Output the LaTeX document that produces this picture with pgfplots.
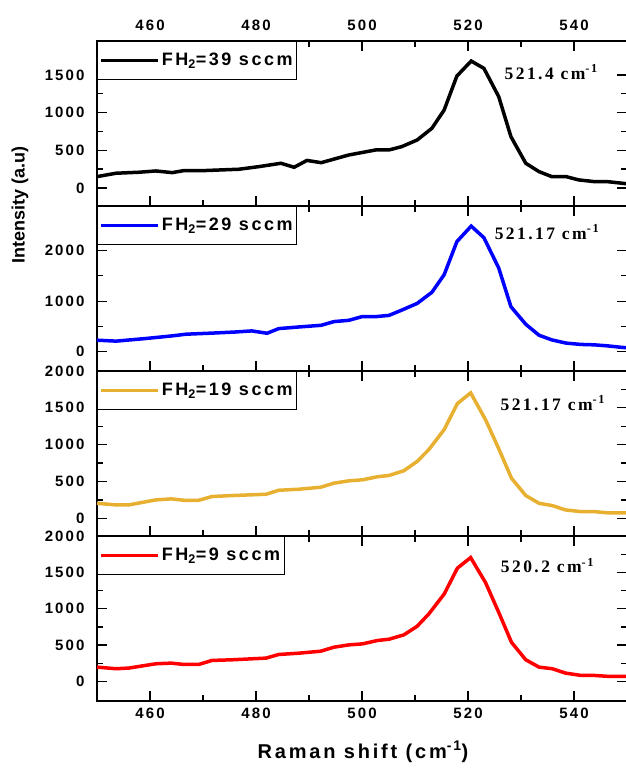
\documentclass[border=0pt]{standalone}
\usepackage{fontspec}
\setmainfont{Liberation Sans}
\newfontfamily\tickfont[LetterSpace=14]{Liberation Sans}
\newfontfamily\labfont[LetterSpace=14]{Liberation Sans}
\newfontfamily\ylabfont{Liberation Sans}
\newfontfamily\annfont[LetterSpace=14]{Liberation Serif}
\usepackage{pgfplots}
\pgfplotsset{compat=1.18}
\usepgfplotslibrary{groupplots}
\usetikzlibrary{calc}
\definecolor{cGold}{HTML}{E8B030}
\definecolor{cBlue}{HTML}{0000FF}
\definecolor{cRed}{HTML}{FF0000}

\tikzset{ann/.style={font=\annfont\bfseries\fontsize{17.5}{17.5}\selectfont, anchor=center}}
\pgfplotsset{
  panel/.style={
    scale only axis, width=530pt, height=165pt,
    xmin=450, xmax=550,
    xtick={460,480,...,540}, minor x tick num=1,
    minor y tick num=1,
    tick align=inside, tick pos=both,
    major tick length=10pt, minor tick length=6pt,
    every tick/.style={line width=1.3pt, black},
    axis line style={line width=1.6pt},
    /pgf/number format/1000 sep={},
    /pgf/number format/assume math mode=true,
    tick label style={font=\tickfont\bfseries\fontsize{15}{15}\selectfont},
    yticklabel style={xshift=-9pt},
    clip=false,
    legend cell align=left,
    legend image code/.code={\draw[#1] (0pt,0pt) -- (57pt,0pt);},
    legend style={at={(0,1)}, anchor=north west, draw=black, line width=0.8pt,
      inner xsep=2pt, inner ysep=10pt,
      font=\labfont\bfseries\fontsize{18}{18}\selectfont},
  },
}

\begin{document}
\begin{tikzpicture}
\begin{groupplot}[group style={group size=1 by 4, vertical sep=0pt}, panel]

\nextgroupplot[ymin=-240, ymax=1950, ytick={0,500,1000,1500},
  xticklabel pos=upper, xticklabel style={yshift=7pt}]
\coordinate (tl) at (rel axis cs:0,1);
\addplot[black, line width=3.5pt] coordinates {
 (450,150) (453.6,195) (457.9,208) (461.1,225) (464.2,203) (466.4,230)
 (470.2,230) (476.8,248) (480.6,283) (484.7,327) (487.2,274) (489.6,365)
 (492.3,335) (497.5,437) (502.6,504) (505.1,504) (507.5,548) (510.4,636)
 (513.2,792) (515.5,1034) (517.9,1485) (520.6,1684) (523.0,1587) (525.8,1211)
 (528.1,680) (530.9,327) (533.4,216) (535.8,150) (538.5,150) (540.9,106)
 (543.8,84) (546.2,84) (549.1,62) (550,55)};
\addlegendentry{FH\textsubscript{2}=39 sccm}
\node[ann] at (axis cs:535.7,1538) {521.4 cm\textsuperscript{-1}};

\nextgroupplot[ymin=-380, ymax=2880, ytick={0,1000,2000}, xticklabels={}]
\addplot[cBlue, line width=3.5pt] coordinates {
 (450,229) (453.6,210) (459.2,262) (464.2,314) (466.8,347) (472,370)
 (476,390) (479.2,412) (482.1,366) (484.3,458) (488.1,490) (492.3,523)
 (494.7,596) (497.5,621) (500,694) (502.6,694) (505.1,719) (507.5,823)
 (510.4,955) (513.2,1176) (515.5,1523) (517.9,2176) (520.6,2483) (523,2254)
 (525.8,1654) (528.1,890) (530.9,543) (533.4,327) (535.8,235) (538.5,171)
 (541.3,145) (543.8,137) (546.2,118) (549.1,86) (550,80)};
\addlegendentry{FH\textsubscript{2}=29 sccm}
\node[ann] at (axis cs:534.9,2367) {521.17 cm\textsuperscript{-1}};

\nextgroupplot[ymin=-240, ymax=2000, ytick={0,500,...,2000}, xticklabels={}]
\addplot[cGold, line width=3.5pt] coordinates {
 (450,204) (453.6,182) (456.0,182) (461.1,250) (464.0,264) (466.4,245)
 (469.2,245) (471.7,296) (475.5,309) (481.9,327) (484.3,381) (488.1,395)
 (492.2,422) (494.7,477) (497.5,509) (500.1,523) (502.9,564) (505.1,582)
 (507.9,646) (510.4,772) (512.6,932) (515.5,1204) (518.0,1558) (520.5,1703)
 (523.3,1340) (525.8,945) (528.2,545) (530.9,309) (533.4,204) (535.9,173)
 (538.4,114) (541.3,91) (543.8,91) (546.6,73) (550,73)};
\addlegendentry{FH\textsubscript{2}=19 sccm}
\node[ann] at (axis cs:536,1563) {521.17 cm\textsuperscript{-1}};

\nextgroupplot[ymin=-270, ymax=2000, ytick={0,500,...,2000},
  xticklabel style={yshift=-3pt}]
\addplot[cRed, line width=3.5pt] coordinates {
 (450,196) (453.6,174) (456.0,183) (461.1,242) (464.0,251) (466.4,233)
 (469.2,233) (471.7,288) (475.5,297) (481.9,320) (484.3,370) (488.1,388)
 (492.2,415) (494.7,470) (497.5,502) (500.1,516) (502.9,562) (505.1,580)
 (507.9,640) (510.4,758) (512.6,927) (515.5,1201) (518.0,1558) (520.5,1703)
 (523.3,1360) (525.8,949) (528.2,538) (530.9,297) (533.4,196) (535.9,174)
 (538.4,114) (541.3,82) (543.8,82) (546.6,68) (550,68)};
\addlegendentry{FH\textsubscript{2}=9 sccm}
\node[ann] at (axis cs:535,1589) {520.2 cm\textsuperscript{-1}};
\end{groupplot}

\node[rotate=90, font=\ylabfont\bfseries\fontsize{18}{18}\selectfont]
  at ($(tl)+(-77pt,-164pt)$) {Intensity (a.u)};
\node[font=\labfont\bfseries\fontsize{20}{20}\selectfont]
  at ($(tl)+(266pt,-711pt)$) {Raman shift (cm\textsuperscript{-1})};

\pgfresetboundingbox
\path ($(tl)+(-97pt,41pt)$) rectangle ($(tl)+(528pt,-730pt)$);
\end{tikzpicture}
\end{document}
